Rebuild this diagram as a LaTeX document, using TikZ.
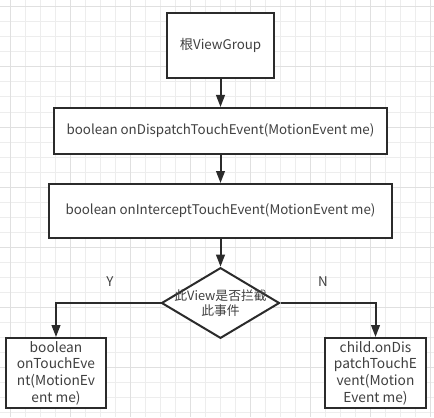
\documentclass[tikz,border=0pt]{standalone}
\usepackage{fontspec}
\setmainfont{Noto Sans CJK SC}
\usetikzlibrary{shapes.geometric, arrows.meta, positioning}

\definecolor{ink}{HTML}{2B2B2B}
\definecolor{gridminor}{HTML}{EDEDED}
\definecolor{gridmajor}{HTML}{E0E0E0}

\begin{document}
\begin{tikzpicture}[
    x=0.75pt, y=-0.75pt,
    box/.style={rectangle, draw=ink, line width=1.5pt, inner sep=0pt, font=\fontsize{10pt}{12pt}\selectfont, text=ink!90},
    smallbox/.style={box, align=center, font=\fontsize{10.3pt}{12.5pt}\selectfont},
    decide/.style={diamond, draw=ink, line width=1.5pt, inner sep=0pt, minimum width=88.5pt, minimum height=53pt, fill=white},
    arrow/.style={draw=ink, line width=1.5pt, -{Triangle[length=9pt, width=6.5pt]}}
  ]
    \useasboundingbox (0,0) rectangle (434,417);
    % background grid
    \fill[white] (0,0) rectangle (434,417);
    \foreach \gx in {10,25,...,430} \draw[gridminor, line width=0.75pt] (\gx,0) -- (\gx,417);
    \foreach \gy in {7,22,...,415} \draw[gridminor, line width=0.75pt] (0,\gy) -- (434,\gy);
    \foreach \gx in {10,70,...,430} \draw[gridmajor, line width=0.75pt] (\gx,0) -- (\gx,417);
    \foreach \gy in {7,67,...,415} \draw[gridmajor, line width=0.75pt] (0,\gy) -- (434,\gy);

    \node[box, fill=white, minimum width=80.25pt, minimum height=48.75pt] (root) at (220.5,45.5) {根ViewGroup};
    \node[box, fill=white, minimum width=249.75pt, minimum height=34.5pt] (dispatch) at (220.5,131) {boolean onDispatchTouchEvent(MotionEvent me)};
    \node[box, fill=white, minimum width=257.25pt, minimum height=40.5pt] (intercept) at (220.5,211) {boolean onInterceptTouchEvent(MotionEvent me)};
    \node[decide, label={[align=center, font=\fontsize{9.6pt}{11pt}\selectfont, text=ink!90]center:此View是否拦截\\此事件}] (check) at (220.5,303) {};
    \node[smallbox, fill=white, minimum width=75pt, minimum height=52.5pt] (touch) at (56,373) {boolean\\onTouchEve\\nt(MotionEv\\ent me)};
    \node[smallbox, fill=white, minimum width=75.75pt, minimum height=52.5pt] (child) at (375.5,373) {child.onDis\\patchTouchE\\vent(Motion\\Event me)};

    \draw[arrow] (root) -- (dispatch);
    \draw[arrow] (dispatch) -- (intercept);
    \draw[arrow] (intercept) -- (check);
    \draw[arrow] (check.west) -| (touch.north);
    \draw[arrow] (check.east) -| (child.north);

    \node[font=\fontsize{10pt}{12pt}\selectfont, text=ink!90] (yes) at (110,282) {Y};
    \node[font=\fontsize{10pt}{12pt}\selectfont, text=ink!90] (no) at (323,282) {N};
  \end{tikzpicture}
\end{document}
